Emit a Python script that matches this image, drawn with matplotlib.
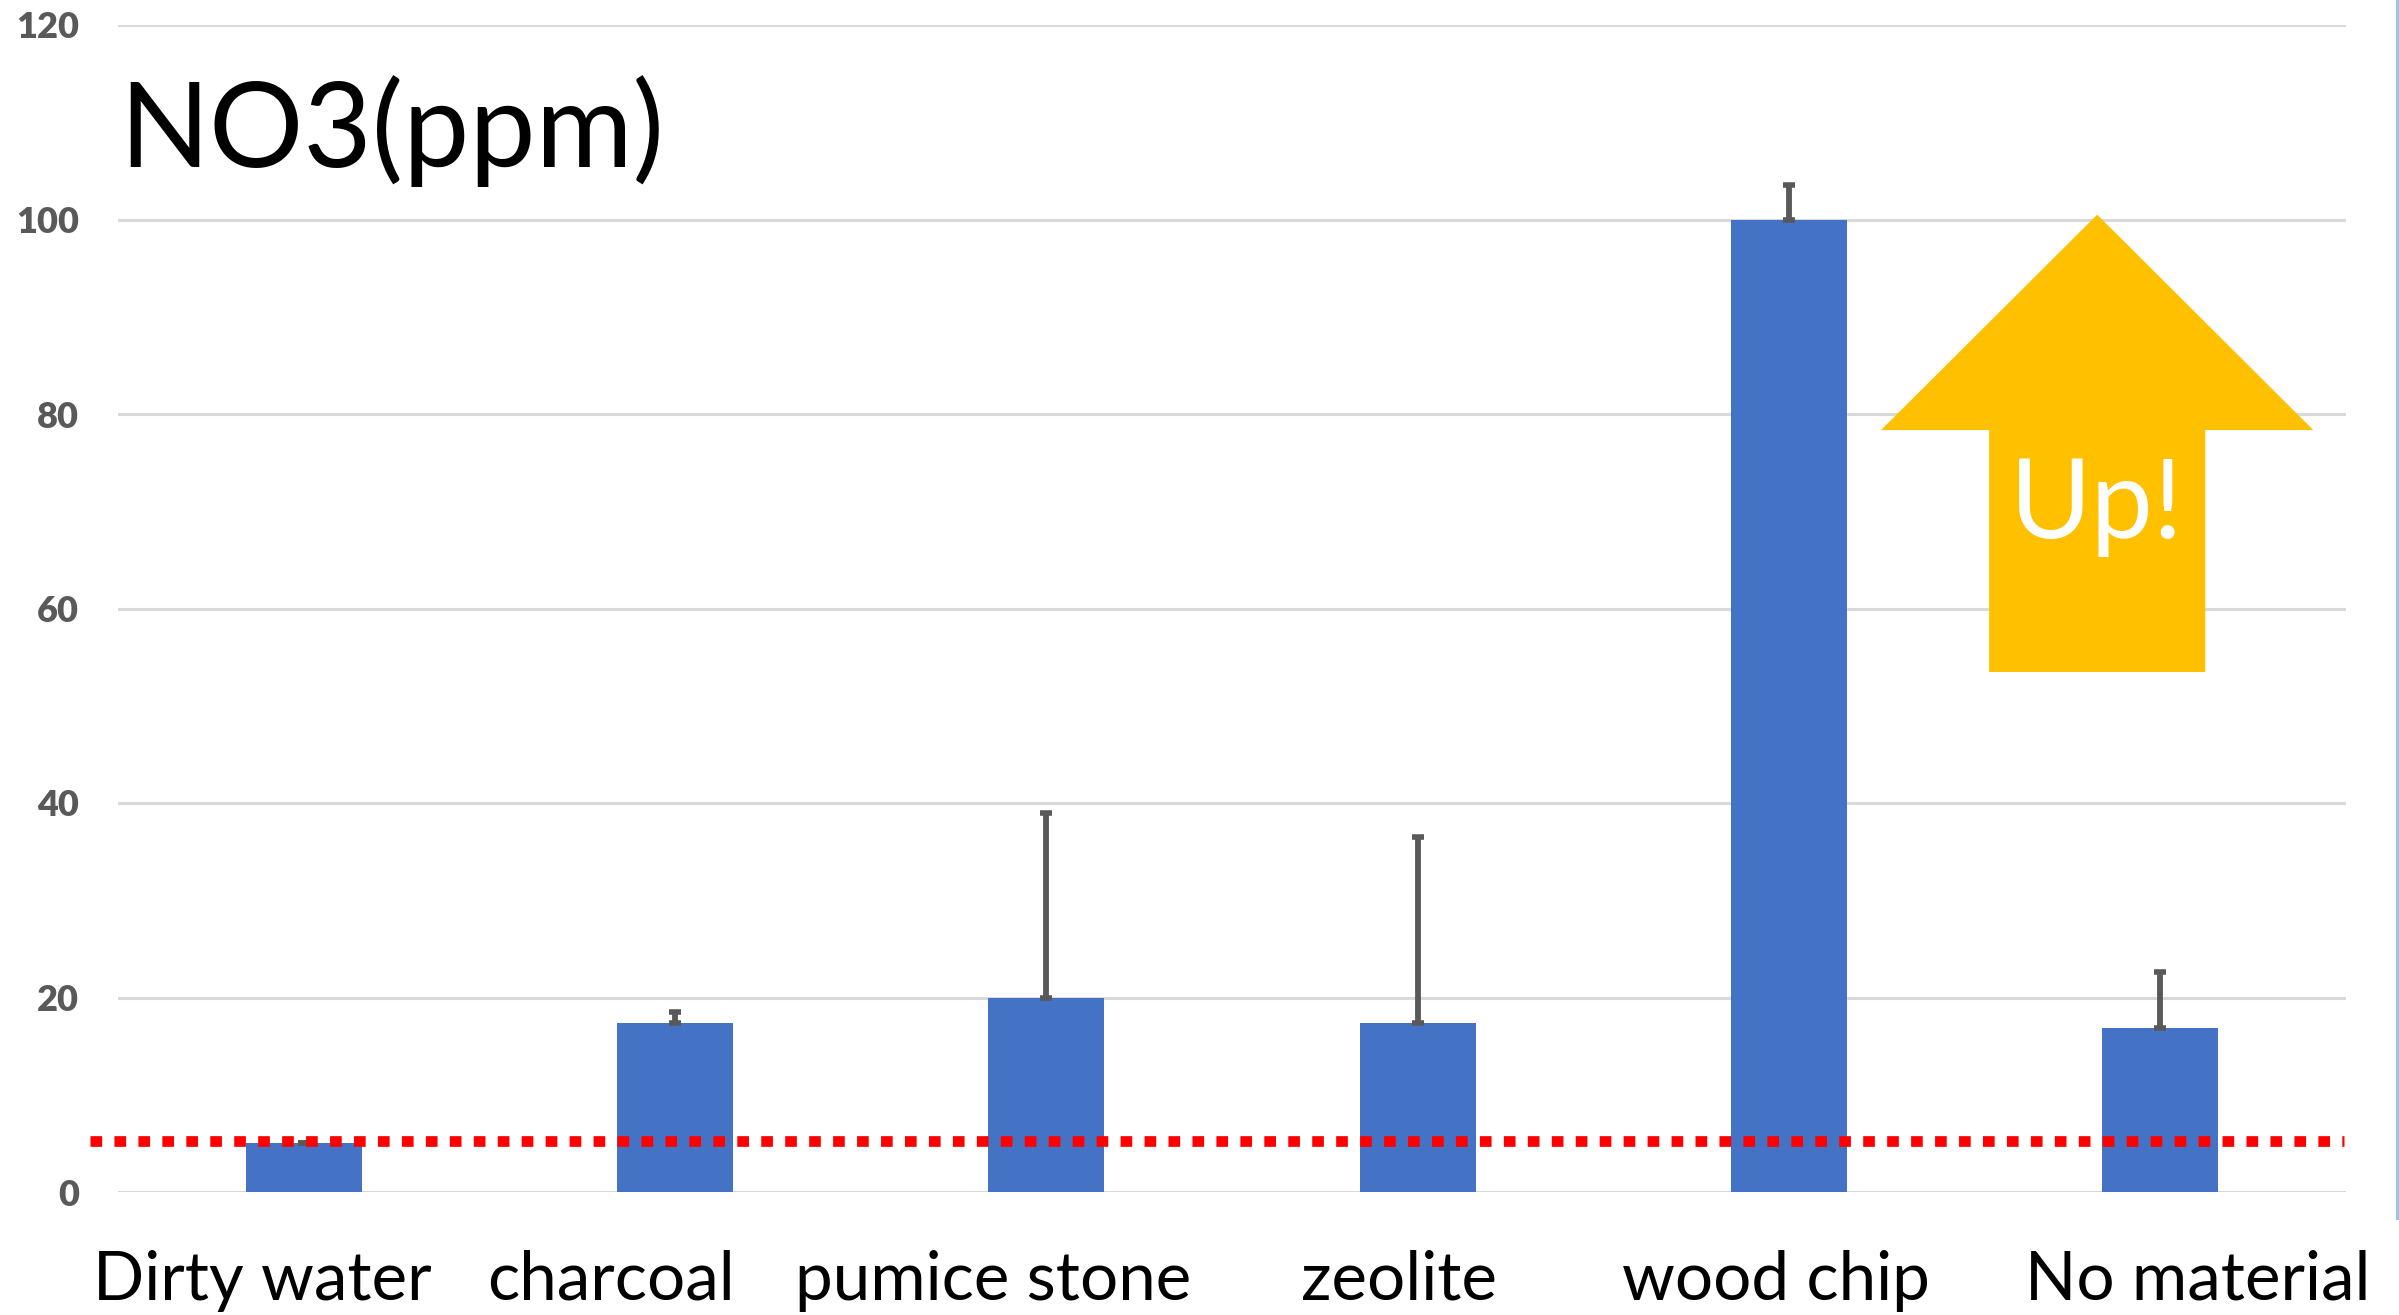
import matplotlib
matplotlib.use("Agg")
import matplotlib.pyplot as plt
import numpy as np
from matplotlib.patches import Polygon
from matplotlib.lines import Line2D
from matplotlib.transforms import blended_transform_factory

# ---- data ----
categories = ["Dirty water", "charcoal", "pumice stone", "zeolite", "wood chip", "No material"]
values = [5.0, 17.4, 20.0, 17.4, 100.0, 16.9]
err_upper = [0.0, 1.1, 19.0, 19.1, 3.5, 5.7]
reference_level = 5.2
y_ticks = [0, 20, 40, 60, 80, 100, 120]
title_text = "NO3(ppm)"
arrow_text = "Up!"

# ---- style ----
label_offsets_px = [-41, -64, -53, -19, -13, 37]
W, H, DPI = 2399, 1315, 100
FONT = "Lato"

fig = plt.figure(figsize=(W / DPI, H / DPI), dpi=DPI)
ax = fig.add_axes([118 / W, (H - 1192) / H, (2346 - 118) / W, (1192 - 25) / H])

x = np.arange(len(categories))
ax.bar(x, values, width=0.313, color="#4472C4", zorder=3)
ax.errorbar(x, values, yerr=[np.zeros(len(values)), err_upper], fmt="none",
            ecolor="#595959", elinewidth=4.2, capsize=4.6, capthick=4.0, zorder=4)

ax.set_xlim(-0.5, len(categories) - 0.5)
ax.set_ylim(y_ticks[0], y_ticks[-1])
ax.set_yticks(y_ticks)
ax.set_yticklabels([str(t) for t in y_ticks], fontfamily=FONT, fontweight="heavy",
                   fontsize=26, color="#595959")
ax.tick_params(axis="y", length=0, pad=28)
ax.set_xticks([])
for s in ax.spines.values():
    s.set_visible(False)
ax.grid(axis="y", color="#D9D9D9", linewidth=2.2, zorder=0)
ax.set_axisbelow(True)

# red dotted reference line
ax.plot([-0.575, 5.495], [reference_level, reference_level], color="#FF0000",
        linewidth=7.7, linestyle=(0, (1.09, 1.15)), dash_capstyle="butt",
        clip_on=False, zorder=5)

# category labels
trans = blended_transform_factory(ax.transData, ax.transAxes)
cat_w_px = (2346 - 118) / len(categories)
for i, (lab, off) in enumerate(zip(categories, label_offsets_px)):
    ax.text(i + off / cat_w_px, -108 / 1167, lab, transform=trans, ha="center",
            va="baseline", fontsize=48.5, fontfamily=FONT, color="black", clip_on=False)

# yellow up arrow
arrow_pts = [(4.830, 100.5), (5.412, 78.35), (5.121, 78.35), (5.121, 53.47),
             (4.539, 53.47), (4.539, 78.35), (4.248, 78.35)]
ax.add_patch(Polygon(arrow_pts, closed=True, facecolor="#FFC000", edgecolor="none",
                     zorder=6, clip_on=False))
ax.text(4.830, 67.2, arrow_text, ha="center", va="baseline", fontsize=80,
        fontfamily=FONT, color="white", zorder=7)

# title
fig.text(119 / W, (H - 167) / H, title_text, ha="left", va="baseline",
         fontsize=85, fontfamily=FONT, color="black")

# right edge light blue line
fig.add_artist(Line2D([2397 / W, 2397 / W], [1.0, (H - 1218) / H], color="#9DC3E6",
                      linewidth=2.2, transform=fig.transFigure))

fig.savefig("out.png", dpi=DPI)
